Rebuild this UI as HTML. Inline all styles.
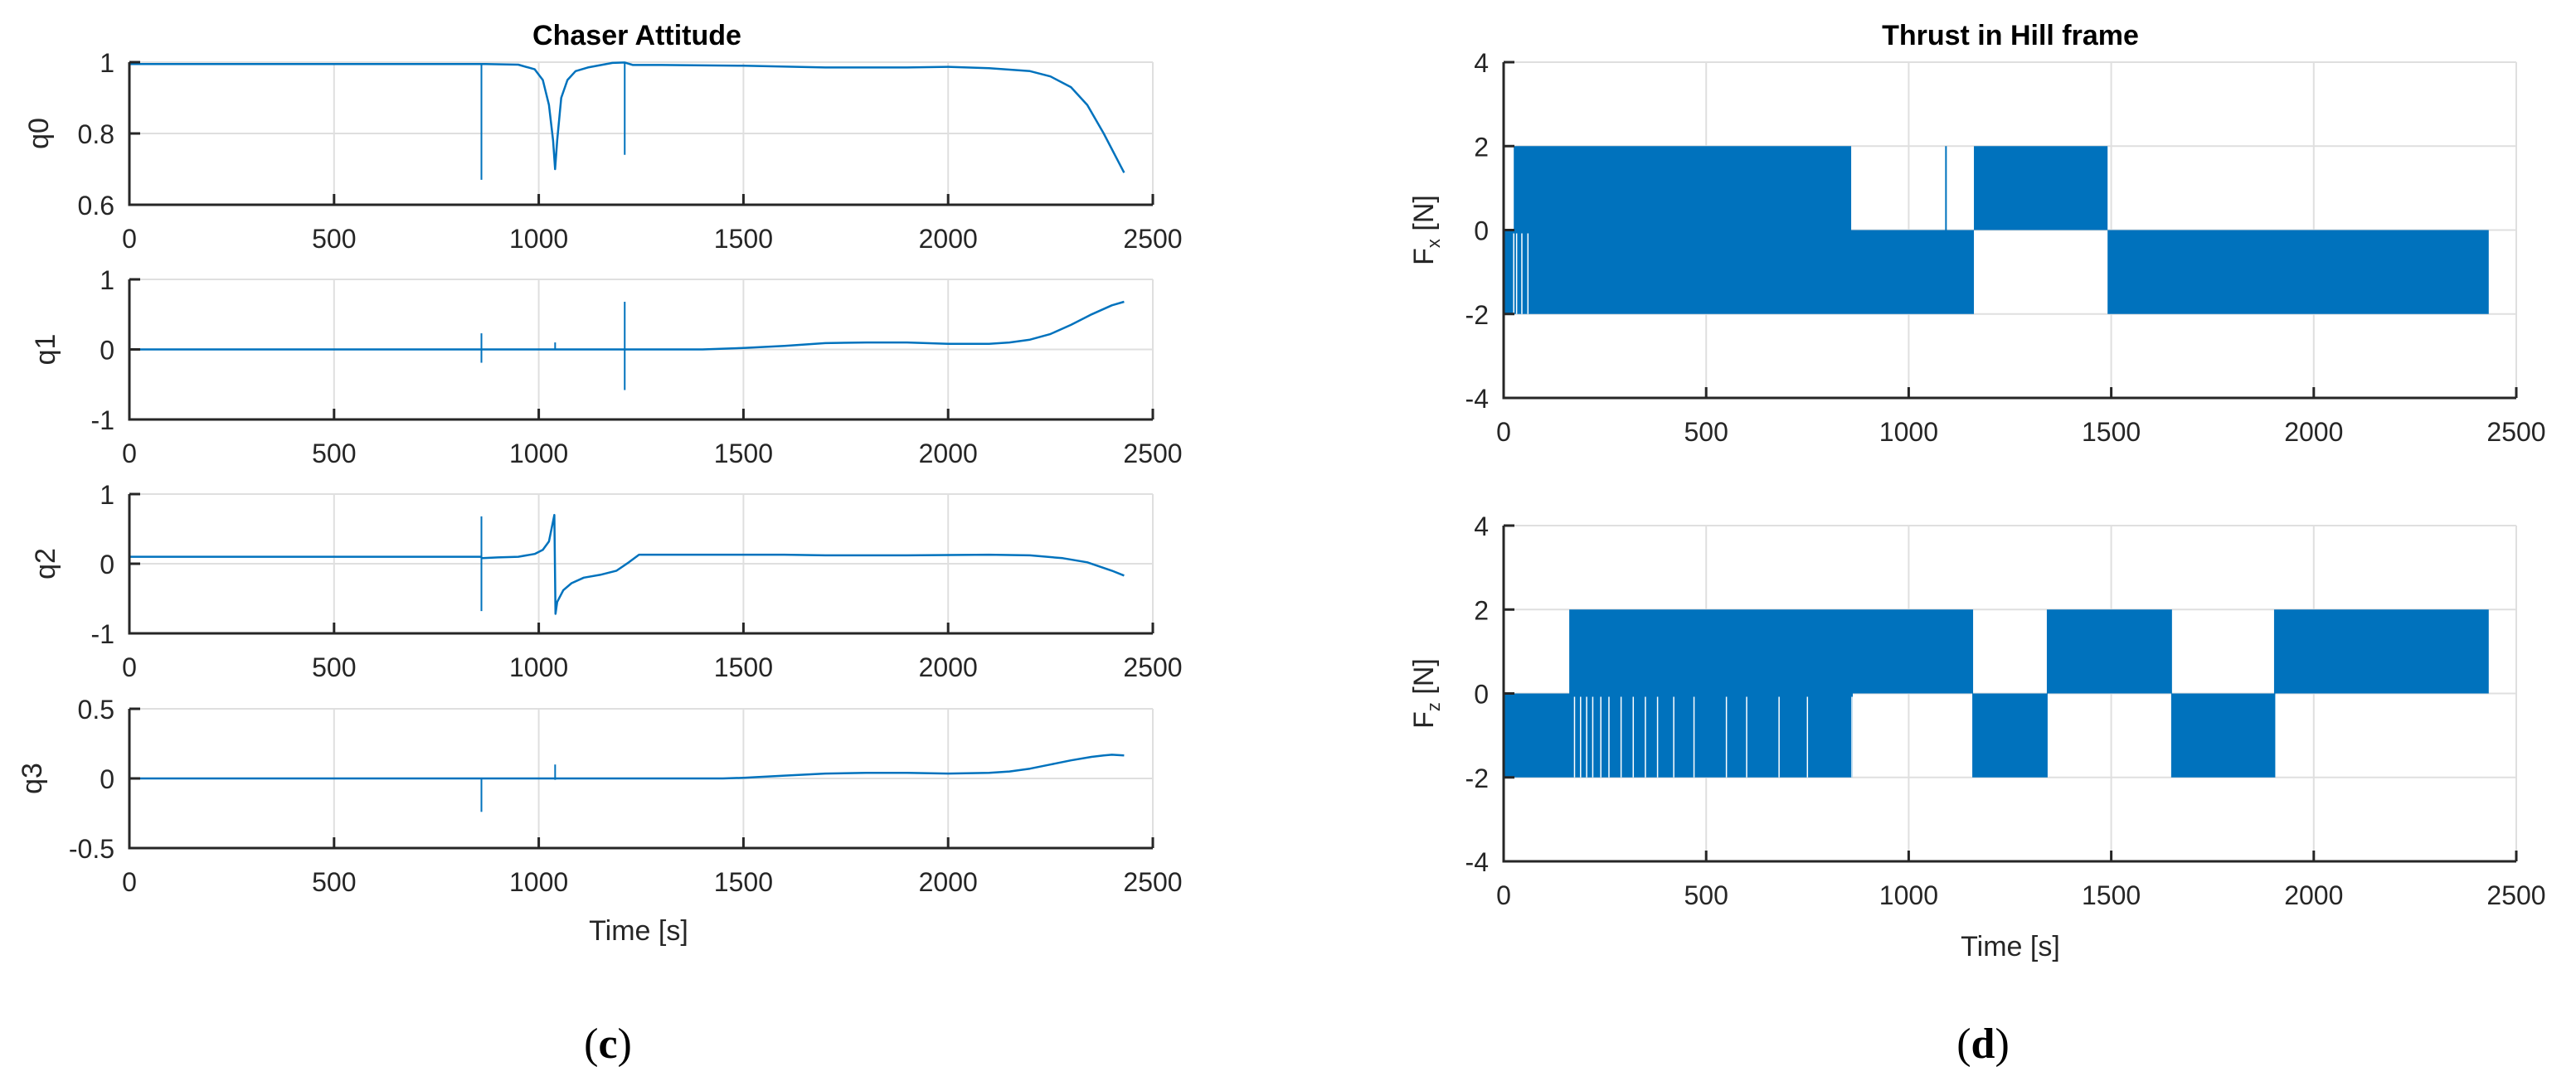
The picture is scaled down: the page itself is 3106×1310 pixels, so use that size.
<!DOCTYPE html>
<html><head><meta charset="utf-8"><style>
html,body{margin:0;padding:0;background:#fff;}
svg{display:block;font-family:"Liberation Sans",sans-serif;}
</style></head><body>
<svg id="fig" width="3106" height="1310" viewBox="0 0 3106 1310" xmlns="http://www.w3.org/2000/svg">
<rect width="3106" height="1310" fill="#fff"/>
<text x="768" y="54" font-size="34" font-weight="bold" text-anchor="middle" fill="#000">Chaser Attitude</text>
<text x="2424" y="54" font-size="34" font-weight="bold" text-anchor="middle" fill="#000">Thrust in Hill frame</text>
<text x="770" y="1134" font-size="34" text-anchor="middle" fill="#262626">Time [s]</text>
<text x="2424" y="1153" font-size="34" text-anchor="middle" fill="#262626">Time [s]</text>
<text x="733" y="1276" font-size="52" font-family="Liberation Serif, serif" text-anchor="middle" fill="#000">(<tspan font-weight="bold">c</tspan>)</text>
<text x="2391" y="1276" font-size="52" font-family="Liberation Serif, serif" text-anchor="middle" fill="#000">(<tspan font-weight="bold">d</tspan>)</text>
<g id="plots"></g>
</svg>
<script>
// ---- data ----
const xTicks = [0, 500, 1000, 1500, 2000, 2500];
const q0T = [0, 850, 870, 950, 990, 1010, 1025, 1035, 1040, 1045, 1055, 1070, 1090, 1120, 1180, 1210, 1230, 1300, 1500, 1700, 1900, 2000, 2100, 2200, 2250, 2300, 2340, 2380, 2430];
const q0V = [0.995, 0.995, 0.995, 0.993, 0.98, 0.95, 0.88, 0.78, 0.70, 0.78, 0.90, 0.95, 0.975, 0.985, 0.998, 0.999, 0.992, 0.992, 0.99, 0.985, 0.985, 0.987, 0.983, 0.975, 0.96, 0.93, 0.88, 0.80, 0.69];
const q0SpikeT = [860, 1210];
const q0SpikeLo = [0.67, 0.74];
const q0SpikeHi = [0.995, 1.0];
const q1T = [0, 1400, 1500, 1600, 1700, 1800, 1900, 2000, 2100, 2150, 2200, 2250, 2300, 2350, 2400, 2430];
const q1V = [0, 0, 0.02, 0.05, 0.09, 0.1, 0.1, 0.08, 0.08, 0.1, 0.14, 0.22, 0.35, 0.5, 0.63, 0.68];
const q1SpikeT = [860, 1040, 1210];
const q1SpikeLo = [-0.19, 0, -0.58];
const q1SpikeHi = [0.23, 0.1, 0.68];
const q2T = [0, 858, 862, 900, 950, 990, 1010, 1025, 1038, 1041, 1045, 1060, 1080, 1110, 1150, 1190, 1220, 1245, 1400, 1600, 1700, 1900, 2100, 2200, 2280, 2340, 2400, 2430];
const q2V = [0.1, 0.1, 0.08, 0.09, 0.1, 0.14, 0.2, 0.32, 0.7, -0.72, -0.55, -0.38, -0.28, -0.2, -0.16, -0.1, 0.02, 0.13, 0.13, 0.13, 0.12, 0.12, 0.13, 0.12, 0.08, 0.02, -0.1, -0.17];
const q2SpikeT = [860];
const q2SpikeLo = [-0.68];
const q2SpikeHi = [0.68];
const q3T = [0, 1450, 1500, 1600, 1700, 1800, 1900, 2000, 2100, 2150, 2200, 2250, 2300, 2350, 2380, 2400, 2430];
const q3V = [0, 0, 0.005, 0.02, 0.035, 0.04, 0.04, 0.035, 0.04, 0.05, 0.07, 0.1, 0.13, 0.155, 0.165, 0.17, 0.165];
const q3SpikeT = [860, 1040];
const q3SpikeLo = [-0.24, -0.01];
const q3SpikeHi = [0, 0.1];
const fxUpper = [[25, 858], [1090, 1092], [1161, 1491]];
const fxLower = [[0, 1161], [1491, 2432]];
const fxGaps = [25, 32, 45, 60];
const fzUpper = [[162, 1159], [1341, 1650], [1902, 2432]];
const fzLower = [[0, 862], [1157, 1343], [1648, 1905]];
const fzGaps = [175, 190, 205, 220, 240, 260, 290, 320, 350, 380, 420, 470, 550, 600, 680, 750, 860];

const NS = "http://www.w3.org/2000/svg";
const G = document.getElementById('plots');
const BLUE = "#0072BD";
function el(tag, attrs, parent) {
  const e = document.createElementNS(NS, tag);
  for (const k in attrs) e.setAttribute(k, attrs[k]);
  (parent || G).appendChild(e);
  return e;
}
function axes(name, x0, x1, y0, y1, ymin, ymax, yTicks, yLabels, ylab, ylabX, sub) {
  const g = el('g', {});
  
  
  const sx = t => x0 + (t / 2500) * (x1 - x0);
  const sy = v => y1 - (v - ymin) / (ymax - ymin) * (y1 - y0);
  xTicks.forEach(t => {
    if (t > 0) { const gl = el('line', {x1: sx(t), x2: sx(t), y1: y0, y2: y1, stroke: '#dfdfdf', 'stroke-width': 2}, g);
        }
  });
  yTicks.forEach(v => {
    if (v > ymin) { const gl = el('line', {x1: x0, x2: x1, y1: sy(v), y2: sy(v), stroke: '#dfdfdf', 'stroke-width': 2}, g);
        }
  });
  const plotG = el('g', {}, g);
  
  
  const axG = el('g', {}, g);
  
  
  el('path', {d: `M${x0},${y0}V${y1}H${x1}`, fill: 'none', stroke: '#262626', 'stroke-width': 3}, axG);
  xTicks.forEach((t, i) => {
    el('line', {x1: sx(t), x2: sx(t), y1: y1, y2: y1 - 13, stroke: '#262626', 'stroke-width': 3}, axG);
    const tx = el('text', {x: sx(t), y: y1 + 52, 'font-size': 32, 'text-anchor': 'middle', fill: '#262626'}, axG);
    tx.textContent = String(t);
    
    
  });
  yTicks.forEach((v, i) => {
    el('line', {x1: x0, x2: x0 + 13, y1: sy(v), y2: sy(v), stroke: '#262626', 'stroke-width': 3}, axG);
    const tx = el('text', {x: x0 - 18, y: sy(v) + 12, 'font-size': 32, 'text-anchor': 'end', fill: '#262626'}, axG);
    tx.textContent = yLabels[i];
    
    
  });
  const yl = el('text', {x: ylabX, y: (y0 + y1) / 2, 'font-size': 34, 'text-anchor': 'middle', fill: '#262626',
    transform: `rotate(-90 ${ylabX} ${(y0 + y1) / 2})`}, g);
  yl.textContent = ylab;
  if (sub) { const ts = el('tspan', {'font-size': 22, dy: 8}, yl); ts.textContent = sub;
    const t2 = el('tspan', {dy: -8}, yl); t2.textContent = ' [N]'; }
  
  
  return {sx, sy, g: plotG};
}
function quat(name, ax, T, V, sT, sLo, sHi) {
  const d = T.map((t, i) => (i ? 'L' : 'M') + ax.sx(t).toFixed(1) + ',' + ax.sy(V[i]).toFixed(1)).join('');
  const p = el('path', {d, fill: 'none', stroke: BLUE, 'stroke-width': 2.5, 'stroke-linejoin': 'round'}, ax.g);
  
  
  sT.forEach((t, i) => {
    const s = el('line', {x1: ax.sx(t), x2: ax.sx(t), y1: ax.sy(sLo[i]), y2: ax.sy(sHi[i]), stroke: BLUE, 'stroke-width': 2}, ax.g);
    
    
  });
}
function thrust(name, ax, up, lo, gaps) {
  up.forEach(b => {
    const r = el('rect', {x: ax.sx(b[0]), y: ax.sy(2), width: Math.max(2, ax.sx(b[1]) - ax.sx(b[0])), height: ax.sy(0) - ax.sy(2), fill: BLUE}, ax.g);
    
    
  });
  lo.forEach(b => {
    const r = el('rect', {x: ax.sx(b[0]), y: ax.sy(0), width: ax.sx(b[1]) - ax.sx(b[0]), height: ax.sy(-2) - ax.sy(0), fill: BLUE}, ax.g);
    
    
  });
  gaps.forEach(t => {
    const l = el('line', {x1: ax.sx(t), x2: ax.sx(t), y1: ax.sy(0) + 4, y2: ax.sy(-2), stroke: '#fff', 'stroke-width': 1.5}, ax.g);
    
    
  });
}
const a0 = axes('q0-axes', 156, 1390, 75, 247, 0.6, 1, [0.6, 0.8, 1], ['0.6', '0.8', '1'], 'q0', 58);
quat('q0', a0, q0T, q0V, q0SpikeT, q0SpikeLo, q0SpikeHi);
const a1 = axes('q1-axes', 156, 1390, 337, 506, -1, 1, [-1, 0, 1], ['-1', '0', '1'], 'q1', 66);
quat('q1', a1, q1T, q1V, q1SpikeT, q1SpikeLo, q1SpikeHi);
const a2 = axes('q2-axes', 156, 1390, 596, 764, -1, 1, [-1, 0, 1], ['-1', '0', '1'], 'q2', 66);
quat('q2', a2, q2T, q2V, q2SpikeT, q2SpikeLo, q2SpikeHi);
const a3 = axes('q3-axes', 156, 1390, 855, 1023, -0.5, 0.5, [-0.5, 0, 0.5], ['-0.5', '0', '0.5'], 'q3', 50);
quat('q3', a3, q3T, q3V, q3SpikeT, q3SpikeLo, q3SpikeHi);
const ax = axes('fx-axes', 1813, 3034, 75, 480, -4, 4, [-4, -2, 0, 2, 4], ['-4', '-2', '0', '2', '4'], 'F', 1728, 'x');
thrust('fx', ax, fxUpper, fxLower, fxGaps);
const az = axes('fz-axes', 1813, 3034, 634, 1039, -4, 4, [-4, -2, 0, 2, 4], ['-4', '-2', '0', '2', '4'], 'F', 1728, 'z');
thrust('fz', az, fzUpper, fzLower, fzGaps);
</script>
</body></html>
